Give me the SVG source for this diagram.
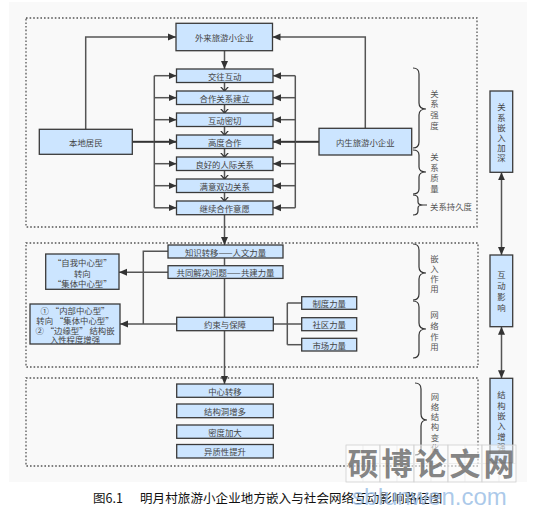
<svg xmlns="http://www.w3.org/2000/svg" width="534" height="516" viewBox="0 0 534 516">
<style>
.bg{fill:#f9f9f9}
.grp{fill:none;stroke:#555;stroke-width:1.3;stroke-dasharray:1.6 2}
.box{fill:#cce5ff;stroke:#3a3a3a;stroke-width:1.3}
.t{font-family:"Noto Sans CJK SC","Noto Sans",sans-serif;font-size:8.4px;fill:#444;text-anchor:middle;dominant-baseline:central}
.v{font-family:"Noto Sans CJK SC","Noto Sans",sans-serif;font-size:8.4px;fill:#444;writing-mode:vertical-rl;text-anchor:start}
.vl{fill:#555}
.lab{font-family:"Noto Sans CJK SC","Noto Sans",sans-serif;font-size:8.4px;fill:#555;text-anchor:middle;dominant-baseline:central}
.ln{fill:none;stroke:#555;stroke-width:1.5}
.br{fill:none;stroke:#333;stroke-width:1.2}
.arr{marker-end:url(#ah)}
.chev{marker-end:url(#cv)}
.cap{font-family:"Noto Sans CJK SC","Liberation Serif",serif;font-size:12.5px;fill:#111}
</style>
<defs>
<marker id="ah" markerUnits="userSpaceOnUse" markerWidth="9" markerHeight="8" refX="8" refY="4" orient="auto">
<path d="M0,0.5 L8,4 L0,7.5 z" fill="#333"/>
</marker>
<marker id="ah2" markerUnits="userSpaceOnUse" markerWidth="9" markerHeight="8" refX="8" refY="4" orient="auto-start-reverse">
<path d="M0,0.5 L8,4 L0,7.5 z" fill="#333"/>
</marker>
<marker id="cv" markerUnits="userSpaceOnUse" markerWidth="9" markerHeight="10" refX="4.5" refY="5" orient="auto">
<path d="M0,1 L4.5,5 L0,9" fill="none" stroke="#333" stroke-width="1.2"/>
</marker>
</defs>
<rect class="bg" x="9" y="2" width="518" height="480"/>
<rect class="grp" x="26" y="18" width="451" height="209"/>
<rect class="grp" x="26" y="243" width="452" height="124"/>
<rect class="grp" x="26" y="378" width="452" height="88"/>

<g id="connectors">
<polyline class="ln arr" points="85.7,129 85.7,37 176,37"/>
<polyline class="ln arr" points="365.3,128 365.3,37 272.5,37"/>
<line class="ln arr" x1="224.5" y1="50.7" x2="224.5" y2="69"/>
<line class="ln chev" x1="224.5" y1="82.5" x2="224.5" y2="91"/>
<line class="ln chev" x1="224.5" y1="104.5" x2="224.5" y2="113"/>
<line class="ln chev" x1="224.5" y1="126.5" x2="224.5" y2="135"/>
<line class="ln chev" x1="224.5" y1="148.5" x2="224.5" y2="157"/>
<line class="ln chev" x1="224.5" y1="170.5" x2="224.5" y2="179"/>
<line class="ln chev" x1="224.5" y1="192.5" x2="224.5" y2="201"/>
<line x1="132.3" y1="141.8" x2="154.3" y2="141.8" stroke="#333" stroke-width="2"/>
<line class="ln" x1="154.3" y1="75.7" x2="154.3" y2="207.8"/>
<line class="ln arr" x1="154.3" y1="75.7" x2="176.5" y2="75.7"/>
<line class="ln arr" x1="154.3" y1="97.7" x2="176.5" y2="97.7"/>
<line class="ln arr" x1="154.3" y1="119.7" x2="176.5" y2="119.7"/>
<line x1="154.3" y1="141.8" x2="176.5" y2="141.8" stroke="#333" stroke-width="2" marker-end="url(#ah)"/>
<line class="ln arr" x1="154.3" y1="163.7" x2="176.5" y2="163.7"/>
<line class="ln arr" x1="154.3" y1="185.7" x2="176.5" y2="185.7"/>
<line class="ln arr" x1="154.3" y1="207.8" x2="176.5" y2="207.8"/>
<line x1="319" y1="141.8" x2="295.3" y2="141.8" stroke="#333" stroke-width="2"/>
<line class="ln" x1="295.3" y1="75.7" x2="295.3" y2="207.8"/>
<line class="ln arr" x1="295.3" y1="75.7" x2="273" y2="75.7"/>
<line class="ln arr" x1="295.3" y1="97.7" x2="273" y2="97.7"/>
<line class="ln arr" x1="295.3" y1="119.7" x2="273" y2="119.7"/>
<line x1="295.3" y1="141.8" x2="273" y2="141.8" stroke="#333" stroke-width="2" marker-end="url(#ah)"/>
<line class="ln arr" x1="295.3" y1="163.7" x2="273" y2="163.7"/>
<line class="ln arr" x1="295.3" y1="185.7" x2="273" y2="185.7"/>
<line class="ln arr" x1="295.3" y1="207.8" x2="273" y2="207.8"/>
<line class="ln arr" x1="224.5" y1="214.7" x2="224.5" y2="245"/>
<line class="ln" x1="224.5" y1="258" x2="224.5" y2="265.7"/>
<line class="ln" x1="224.5" y1="278.3" x2="224.5" y2="317.3"/>
<line class="ln arr" x1="224.5" y1="330.7" x2="224.5" y2="384"/>
<line class="ln arr" x1="168" y1="272.3" x2="119" y2="272.3"/>
<polyline class="ln" points="168,251.3 143.3,251.3 143.3,324"/>
<line class="ln arr" x1="176.7" y1="324" x2="120" y2="324"/>
<line class="ln" x1="273.3" y1="324" x2="287.3" y2="324"/>
<line class="ln" x1="287.3" y1="303" x2="287.3" y2="344.7"/>
<line class="ln" x1="287.3" y1="303" x2="301.7" y2="303"/>
<line class="ln" x1="287.3" y1="324" x2="301.7" y2="324"/>
<line class="ln" x1="287.3" y1="344.7" x2="301.7" y2="344.7"/>
<line class="ln" x1="501.5" y1="172.3" x2="501.5" y2="255" marker-start="url(#ah2)" marker-end="url(#ah2)"/>
<line class="ln" x1="501.5" y1="326.7" x2="501.5" y2="378.3" marker-start="url(#ah2)" marker-end="url(#ah2)"/>
</g>

<g id="n-waiLai"><rect class="box" x="176" y="23.3" width="96.5" height="27.4"/><text class="t" x="224.3" y="37">外来旅游小企业</text></g>
<g id="n-jiaoWang"><rect class="box" x="176.5" y="69" width="96.5" height="13.5"/><text class="t" x="224.7" y="75.7">交往互动</text></g>
<g id="n-heZuo"><rect class="box" x="176.5" y="91" width="96.5" height="13.5"/><text class="t" x="224.7" y="97.7">合作关系建立</text></g>
<g id="n-huDong"><rect class="box" x="176.5" y="113" width="96.5" height="13.5"/><text class="t" x="224.7" y="119.7">互动密切</text></g>
<g id="n-gaoDu"><rect class="box" x="176.5" y="135" width="96.5" height="13.5"/><text class="t" x="224.7" y="141.8">高度合作</text></g>
<g id="n-liangHao"><rect class="box" x="176.5" y="157" width="96.5" height="13.5"/><text class="t" x="224.7" y="163.7">良好的人际关系</text></g>
<g id="n-manYi"><rect class="box" x="176.5" y="179" width="96.5" height="13.5"/><text class="t" x="224.7" y="185.7">满意双边关系</text></g>
<g id="n-jiXu"><rect class="box" x="176.5" y="201" width="96.5" height="13.7"/><text class="t" x="224.7" y="207.8">继续合作意愿</text></g>
<g id="n-benDi"><rect class="box" x="39.3" y="129.3" width="93" height="25"/><text class="t" x="85.8" y="141.8">本地居民</text></g>
<g id="n-neiSheng"><rect class="box" x="319" y="128.3" width="92.7" height="26.7"/><text class="t" x="365.3" y="141.8">内生旅游小企业</text></g>

<g id="n-guanXiJiaShen"><rect class="box" x="490" y="91" width="22.7" height="81.3"/>
<text class="v" x="501.4" y="103.1" letter-spacing="1.8">关系嵌入加深</text></g>
<g id="n-huDongYingXiang"><rect class="box" x="490" y="255" width="22.7" height="71.7"/>
<text class="v" x="501.4" y="270.8" letter-spacing="2.6">互动影响</text></g>
<g id="n-jieGouZengQiang"><rect class="box" x="490" y="378.3" width="22.7" height="84.7"/>
<text class="v" x="501.4" y="390.8" letter-spacing="2">结构嵌入增强</text></g>

<g id="n-zhiShi"><rect class="box" x="168" y="245" width="115" height="13"/><text class="t" x="225.5" y="251.5">知识转移——人文力量</text></g>
<g id="n-gongTong"><rect class="box" x="168" y="265.7" width="115" height="12.7"/><text class="t" x="225.5" y="272">共同解决问题——共建力量</text></g>
<g id="n-yueShu"><rect class="box" x="176.7" y="317.3" width="96.6" height="13.4"/><text class="t" x="225" y="324">约束与保障</text></g>
<g id="n-zhiDu"><rect class="box" x="301.7" y="296.7" width="55" height="12.6"/><text class="t" x="329.2" y="303">制度力量</text></g>
<g id="n-sheQu"><rect class="box" x="301.7" y="317.7" width="55" height="13"/><text class="t" x="329.2" y="324">社区力量</text></g>
<g id="n-shiChang"><rect class="box" x="301.7" y="338.3" width="55" height="12.7"/><text class="t" x="329.2" y="344.7">市场力量</text></g>
<g id="n-ziWo"><rect class="box" x="45.7" y="254" width="73.3" height="35.3"/>
<text class="t"><tspan x="82.3" y="262.3">“自我中心型”</tspan><tspan x="82.3" y="272.6">转向</tspan><tspan x="82.3" y="282.8">“集体中心型”</tspan></text></g>
<g id="n-neiBu"><rect class="box" x="30" y="304" width="90" height="40"/>
<text class="t"><tspan x="75" y="310">①  “内部中心型”</tspan><tspan x="75" y="319.7">转向 “集体中心型”</tspan><tspan x="75" y="329.5">②  “边缘型” 结构嵌</tspan><tspan x="75" y="339.3">入性程度增强</tspan></text></g>

<g id="n-zhongXin"><rect class="box" x="176.7" y="384" width="96.6" height="13.3"/><text class="t" x="225" y="390.7">中心转移</text></g>
<g id="n-jieGouDong"><rect class="box" x="176.7" y="404" width="96.6" height="13.7"/><text class="t" x="225" y="410.9">结构洞增多</text></g>
<g id="n-miDu"><rect class="box" x="176.7" y="425" width="96.6" height="13.3"/><text class="t" x="225" y="431.7">密度加大</text></g>
<g id="n-yiZhi"><rect class="box" x="176.7" y="444.5" width="96.6" height="13.5"/><text class="t" x="225" y="451.3">异质性提升</text></g>

<g id="braces">
<path class="br" d="M413,68 Q419,68 419,74 L419,103 Q419,109 426,109 Q419,109 419,115 L419,142 Q419,148 413,148"/>
<path class="br" d="M413,150 Q419,150 419,155 L419,167 Q419,172 426,172 Q419,172 419,177 L419,189 Q419,194 413,194"/>
<path class="br" d="M413,195 Q418,195 418,199 L418,202 Q418,205 423,205 L427,205 M423,205 Q418,205 418,208 L418,211 Q418,215 413,215"/>
<path class="br" d="M413,244 Q419,244 419,250 L419,267 Q419,273 426,273 Q419,273 419,279 L419,294 Q419,300 413,300"/>
<path class="br" d="M413,301 Q419,301 419,307 L419,323 Q419,329 426,329 Q419,329 419,335 L419,352 Q419,358 413,358"/>
<path class="br" d="M415,383 Q421,383 421,389 L421,414 Q421,420 427,420 Q421,420 421,426 L421,449 Q421,455 415,455"/>
</g>
<g id="labels">
<text class="v vl" x="434.5" y="89.3" letter-spacing="2.4">关系强度</text>
<text class="v vl" x="434.5" y="152.5" letter-spacing="2.4">关系质量</text>
<text class="lab" x="451" y="205.5">关系持久度</text>
<text class="v vl" x="434.5" y="255.1" letter-spacing="1.6">嵌入作用</text>
<text class="v vl" x="434.5" y="310.8" letter-spacing="2.3">网络作用</text>
<text class="v vl" x="435" y="392.5" letter-spacing="1.8">网络结构变化</text>
</g>

<g id="caption">
<text class="cap" x="93" y="503">图6.1</text>
<text class="cap" x="140" y="503" letter-spacing="0.1">明月村旅游小企业地方嵌入与社会网络互动影响路径图</text>
</g>

<g id="watermark">
<g fill="#ffffff" fill-opacity="0.55" stroke="#d0d0d0" stroke-width="0.8">
<rect x="346" y="445" width="34" height="37"/><rect x="380" y="445" width="34" height="37"/><rect x="414" y="445" width="34" height="37"/><rect x="448" y="445" width="34" height="37"/><rect x="482" y="445" width="34" height="37"/>
</g>
<path d="M346,463.5 H516 M363,445 V482 M397,445 V482 M431,445 V482 M465,445 V482 M499,445 V482" stroke="#e2e2e2" stroke-width="0.6" fill="none"/>
<text font-family="Noto Sans CJK SC,sans-serif" font-weight="bold" font-size="31" fill="#6f6f6f" fill-opacity="0.85"><tspan x="347.5" y="475">硕</tspan><tspan x="381.5" y="475">博</tspan><tspan x="415.5" y="475">论</tspan><tspan x="449.5" y="475">文</tspan><tspan x="483.5" y="475">网</tspan></text>
<text x="352" y="505" font-family="Liberation Sans,Arial,sans-serif" font-size="24" fill="#9dbfe6" fill-opacity="0.85">sbIunwen.com</text>
</g>
</svg>
